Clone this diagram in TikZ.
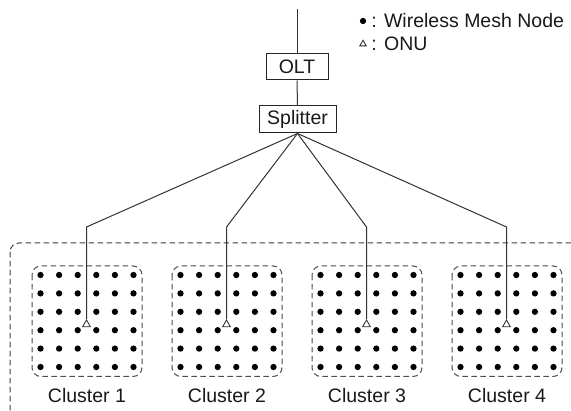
\documentclass[tikz,border=0pt]{standalone}
\usepackage{fontspec}
\setmainfont{Liberation Sans}
\usetikzlibrary{shapes.geometric}
\begin{document}
\begin{tikzpicture}[x=1pt,y=-1pt,
  txt/.style={font=\fontsize{19.5}{21}\selectfont, inner sep=0pt, text=black!90},
  box/.style={txt, draw=black!85, line width=1pt, minimum height=26pt},
  wire/.style={line width=1pt, draw=black!80},
  dashbox/.style={draw=black!75, line width=1pt, dash pattern=on 5.5pt off 3.5pt, rounded corners=9pt},
  meshdot/.style={circle, fill=black, inner sep=0pt, minimum size=6.3pt},
  onu/.style={regular polygon, regular polygon sides=3, draw=black!85, line width=0.8pt, fill=white, inner sep=0pt, minimum size=9pt}
]
\useasboundingbox (0,0) rectangle (571,411);
\begin{scope}
  \clip (0,0) rectangle (571,411);
  \draw[dashbox] (10,243) rectangle (595,435);
\end{scope}

% legend
\node[meshdot] (ldot) at (363,21) {};
\node[txt, anchor=base west] (ltxt1) at (368,28) {\,: Wireless Mesh Node};
\node[onu, minimum size=7.5pt] (lonu) at (363,44) {};
\node[txt, anchor=base west] (ltxt2) at (368,50.5) {\,: ONU};

% OLT / splitter
\coordinate (top) at (297,9);
\node[box, minimum width=62pt] (olt) at (297,67) {OLT};
\node[box, minimum width=77pt, minimum height=27pt] (split) at (297.5,119.5) {Splitter};
\draw[wire] (top) -- (olt.north);
\draw[wire] (olt.south) -- (split.north);

% clusters
\foreach \k in {1,2,3,4}{
  \pgfmathsetmacro{\L}{32+140*(\k-1)}
  \draw[dashbox, draw=black!70] (\L,266) rectangle ({\L+110},376.5);
  \foreach \i in {0,...,5}{
    \foreach \j in {0,...,5}{
      \node[meshdot] (d\k-\i-\j) at ({\L+8.5+18.6*\i},{275+18.4*\j}) {};
    }
  }
  \node[onu] (onu\k) at ({\L+54.5},324.5) {};
  \coordinate (c\k) at ({\L+54.5},227);
  \draw[wire] (split.south) -- (c\k) -- (onu\k.corner 1);
  \node[txt] (lab\k) at ({\L+55},396) {Cluster \k};
}
\end{tikzpicture}
\end{document}
